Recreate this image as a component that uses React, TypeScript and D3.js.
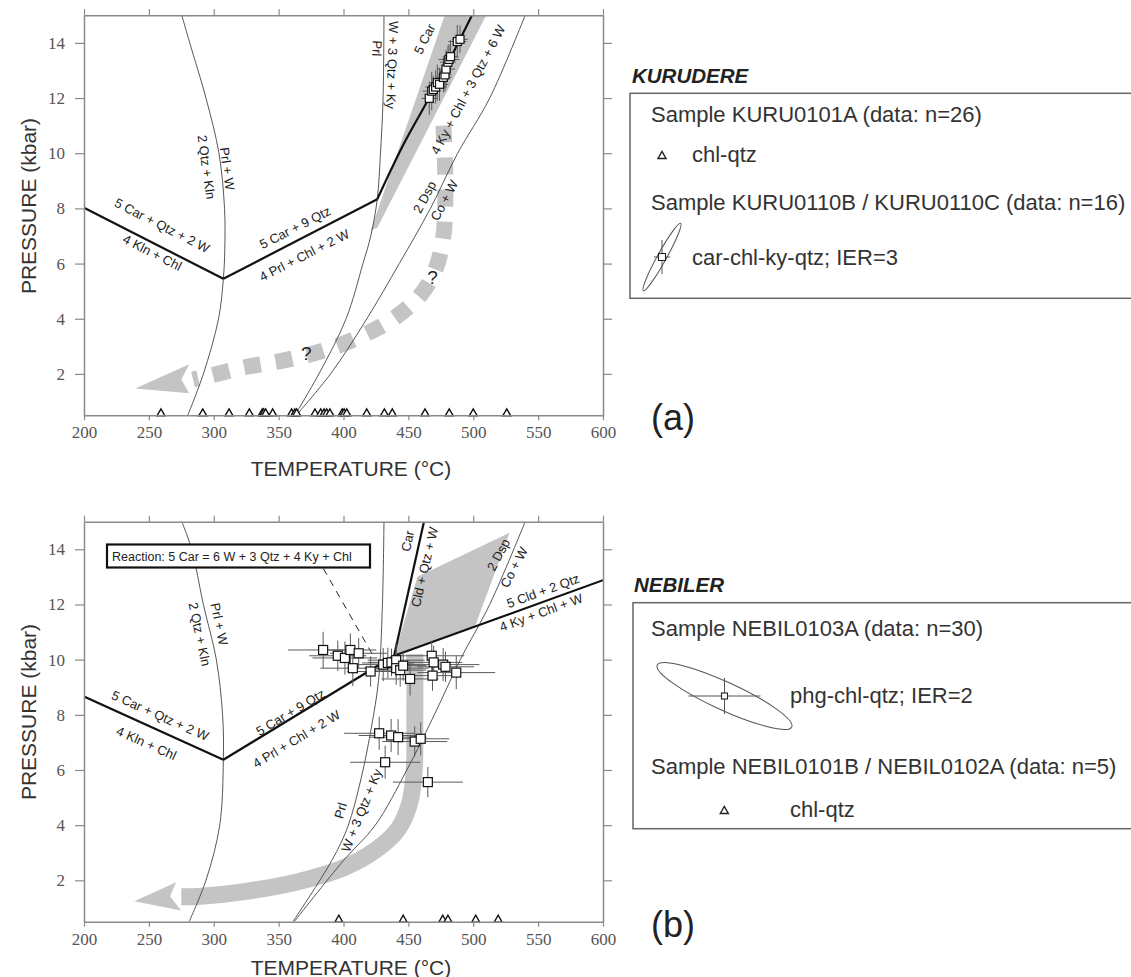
import React, { useRef, useEffect } from 'react';
import * as d3 from 'd3';

type Pt = [number, number];
type Label = [string, number, number, number];

// axes
const T_TICKS = [200, 250, 300, 350, 400, 450, 500, 550, 600];
const P_TICKS = [2, 4, 6, 8, 10, 12, 14];

// ---------- (a) KURUDERE : reactions in [T °C, P kbar] ----------
const A_KLN_CAR: Pt[] = [[200, 8.02], [307.4, 5.45]];
const A_PRL_CAR: Pt[] = [[307.4, 5.45], [426, 8.33]];
const A_CAR_KY: Pt[] = [[426, 8.33], [446, 10.3], [466, 12], [483, 13.5], [499, 15]];
const A_PRL_KLN: Pt[] = [[275.4, 15], [281.5, 14], [294, 12], [304, 10], [308.3, 8], [308.5, 6.5], [307.4, 5.45], [303.7, 4], [292, 2], [280, 0.5]];
const A_PRL_KY: Pt[] = [[431.2, 15], [430.5, 12], [428.5, 10], [426, 8.33], [421, 7], [415, 6], [402, 4], [381, 2], [362.5, 0.5]];
const A_DSP_CO: Pt[] = [[540, 15], [512.7, 12], [488, 10], [467, 8], [443, 6], [418, 4], [390, 2], [363.5, 0.5]];
const A_BAND: Pt[] = [[421, 7.2], [478, 15], [510, 15], [426, 7.3]];
const A_PATH: Pt[] = [[477, 11.0], [478.5, 9], [477, 7], [471, 5.8], [460, 4.9], [440, 4.05], [415, 3.4], [385, 2.85], [355, 2.5], [325, 2.25], [298, 1.95], [284, 1.8]];
const A_ARROW: Pt[] = [[239.5, 1.47], [281, 2.35], [275, 1.8], [281, 1.3]];
const A_QMARKS: Pt[] = [[468.6, 5.51], [371.3, 2.74]];

// chl-qtz temperatures (sample KURU0101A, n=26), plotted on the T axis
const A_CHLQTZ_T = [259.3, 291.5, 311.8, 327.4, 337.4, 338.5, 340, 345.4, 360, 362.5, 363.9, 378, 382.4, 385, 387, 389.5, 399, 400.5, 402.5, 417.9, 431.5, 437.6, 462.8, 481.5, 500, 525.8];
// car-chl-ky-qtz estimates (KURU0110B / KURU0110C)
const A_MULTI_T = [466.1, 468, 469.2, 471, 472.3, 474, 477, 478.2, 479, 480.5, 481.3, 482.5, 487.7, 489.8];
const A_MULTI_P = [11.99, 12.25, 12.31, 12.4, 12.56, 12.5, 12.75, 12.84, 13.05, 13.3, 13.4, 13.5, 14.05, 14.13];
const A_MULTI_ST = [6, 7, 5, 8, 6, 7, 6, 5, 7, 6, 8, 6, 7, 6];
const A_MULTI_SP = [0.6, 0.7, 0.5, 0.6, 0.65, 0.6, 0.55, 0.6, 0.7, 0.6, 0.55, 0.6, 0.6, 0.5];

const A_LABELS: Label[] = [
  ['5 Car + Qtz + 2 W', 260.2, 7.38, 27],
  ['4 Kln + Chl', 252.6, 6.4, 27],
  ['5 Car + 9 Qtz', 362.7, 7.3, -27],
  ['4 Prl + Chl + 2 W', 369.7, 6.3, -27],
  ['2 Qtz + Kln', 294.3, 9.5, 82],
  ['Prl + W', 310.4, 9.44, 82],
  ['Prl', 425.8, 13.8, 92],
  ['W + 3 Qtz + Ky', 437.5, 13.2, 92],
  ['5 Car', 462.5, 14.14, -63],
  ['4 Ky + Chl + 3 Qtz + 6 W', 496, 12.3, -62],
  ['2 Dsp', 462.5, 8.41, -62],
  ['Co + W', 477.7, 8.29, -62],
];

// ---------- (b) NEBILER ----------
const B_KLN_CAR: Pt[] = [[200, 8.66], [307.4, 6.37]];
const B_PRL_CAR: Pt[] = [[307.4, 6.37], [439, 10.14]];
const B_CAR_CLD: Pt[] = [[439, 10.14], [462, 15]];
const B_CLD_KY: Pt[] = [[439, 10.14], [600, 12.88]];
const B_CAR_KY_META: Pt[] = [[384.5, 13.3], [424, 10.05]];
const B_PRL_KLN: Pt[] = [[275.4, 15], [283, 14], [292, 12], [302, 10], [306.8, 8], [307.4, 6.37], [304.6, 4], [294, 2], [281, 0.5]];
const B_PRL_KY: Pt[] = [[431.2, 15], [430, 12], [427, 9.24], [421.5, 7.55], [413.8, 5.74], [403.2, 3.93], [391, 2.72], [361, 0.5]];
const B_DSP_CO: Pt[] = [[540, 15], [512.7, 12], [490, 10], [470, 8], [448.8, 6], [424.5, 4], [400, 2.72], [362, 0.5]];
const B_FIELD: Pt[] = [[439, 10.14], [457, 13.0], [528, 14.6], [501.3, 11.19]];
const B_PATH: Pt[] = [[455, 10.2], [455, 8], [454.5, 6], [451, 4.8], [442, 3.85], [425, 3.1], [400, 2.45], [365, 1.95], [325, 1.6], [290, 1.42], [275, 1.4]];
const B_ARROW: Pt[] = [[238.8, 1.24], [271, 1.93], [266.3, 1.42], [274.8, 0.91]];

// phg-chl-qtz estimates (NEBIL0103A)
const B_PHG_T = [384.3, 395.6, 401.1, 405.3, 411.7, 407.2, 420.9, 430.6, 434.2, 437, 440.6, 440.6, 443.7, 446, 451.3, 468, 469.5, 468.6, 476.8, 478.6, 486.9, 427.5, 436.7, 442.1, 454.9, 459.5, 432.1, 465];
const B_PHG_P = [10.35, 10.14, 10.06, 10.35, 10.23, 9.69, 9.57, 9.82, 9.88, 9.9, 9.98, 9.69, 9.62, 9.78, 9.3, 10.14, 9.9, 9.42, 9.82, 9.74, 9.53, 7.33, 7.25, 7.19, 7.03, 7.13, 6.28, 5.56];
const B_PHG_ST = [27, 22, 25, 20, 22, 25, 18, 22, 20, 18, 22, 25, 20, 18, 22, 25, 22, 20, 28, 22, 30, 27, 25, 22, 25, 22, 27, 27];
const B_PHG_SP = [0.66, 0.55, 0.6, 0.6, 0.55, 0.65, 0.55, 0.6, 0.55, 0.5, 0.6, 0.6, 0.6, 0.55, 0.6, 0.55, 0.6, 0.55, 0.6, 0.55, 0.6, 0.6, 0.6, 0.65, 0.55, 0.6, 0.6, 0.55];
// chl-qtz (NEBIL0101B / NEBIL0102A)
const B_CHLQTZ_T = [396.4, 446, 476.5, 480.5, 501.9, 519.2];

const B_LABELS: Label[] = [
  ['5 Car + Qtz + 2 W', 258.7, 7.97, 24],
  ['4 Kln + Chl', 248.1, 6.97, 24],
  ['5 Car + 9 Qtz', 359.1, 8.09, -31],
  ['4 Prl + Chl + 2 W', 363.7, 7.12, -31],
  ['2 Qtz + Kln', 289.1, 10.92, 78],
  ['Prl + W', 304.3, 11.29, 78],
  ['Prl', 397.7, 4.53, -74],
  ['W + 3 Qtz + Ky', 413.9, 4.53, -68],
  ['Car', 449.4, 14.3, -77],
  ['Cld + Qtz + W', 462.5, 13.36, -77],
  ['2 Dsp', 519.4, 13.8, -62],
  ['Co + W', 531.5, 13.35, -62],
  ['5 Cld + 2 Qtz', 553.8, 12.49, -20],
  ['4 Ky + Chl + W', 552.3, 11.71, -20],
];

const CHLQTZ_P = 0.5;

const SANS = '"Liberation Sans", Arial, Helvetica, sans-serif';
const SERIF = '"Liberation Serif", "Times New Roman", serif';
const GREY = '#c4c4c4';
const AXIS = '#8a8a8a';

const X0 = 84, X1 = 603;

const drawPanel = (svg: any, cfg: any) => {
  const x = d3.scaleLinear().domain([200, 600]).range([X0, X1]);
  const y = d3.scaleLinear().domain([0.5, 15]).range([cfg.bottom, cfg.top]);
  const line = d3.line<Pt>().x(d => x(d[0])).y(d => y(d[1]));
  const smooth = d3.line<Pt>().x(d => x(d[0])).y(d => y(d[1])).curve(d3.curveCatmullRom.alpha(0.5));

  svg.append('clipPath').attr('id', cfg.id).append('rect')
    .attr('x', X0).attr('y', cfg.top).attr('width', X1 - X0).attr('height', cfg.bottom - cfg.top);
  const g = svg.append('g').attr('clip-path', `url(#${cfg.id})`);

  // grey fields and P-T path
  cfg.fills.forEach((poly: Pt[]) => g.append('path').attr('d', line(poly) + 'Z').attr('fill', GREY));
  g.append('path').attr('d', smooth(cfg.path))
    .attr('fill', 'none').attr('stroke', GREY)
    .attr('stroke-width', cfg.pathWidth)
    .attr('stroke-dasharray', cfg.pathDash || null);
  g.append('path').attr('d', line(cfg.arrow) + 'Z').attr('fill', GREY);

  // reaction curves
  cfg.thin.forEach((c: Pt[]) => g.append('path').attr('d', smooth(c))
    .attr('fill', 'none').attr('stroke', '#444').attr('stroke-width', 0.9));
  cfg.thick.forEach((c: Pt[]) => g.append('path').attr('d', smooth(c))
    .attr('fill', 'none').attr('stroke', '#111').attr('stroke-width', 2.2));
  (cfg.dashed || []).forEach((c: Pt[]) => g.append('path').attr('d', line(c))
    .attr('fill', 'none').attr('stroke', '#222').attr('stroke-width', 1).attr('stroke-dasharray', '7 6'));

  // reaction labels
  g.selectAll('text.lbl').data(cfg.labels).join('text')
    .attr('class', 'lbl')
    .attr('transform', (d: Label) => `translate(${x(d[1])},${y(d[2])}) rotate(${d[3]})`)
    .attr('text-anchor', 'middle').attr('dominant-baseline', 'central')
    .style('font-family', SANS).style('font-size', '13px').attr('fill', '#222')
    .text((d: Label) => d[0]);

  (cfg.qmarks || []).forEach((q: Pt) => g.append('text')
    .attr('x', x(q[0])).attr('y', y(q[1])).attr('text-anchor', 'middle').attr('dominant-baseline', 'central')
    .style('font-family', SANS).style('font-size', '19px').attr('fill', '#222').text('?'));

  // error bars + squares
  const pts = cfg.sqT.map((t: number, i: number) => ({ t, p: cfg.sqP[i], st: cfg.sqST[i], sp: cfg.sqSP[i] }));
  const eb = g.append('g').attr('stroke', '#5a5a5a').attr('stroke-width', 1);
  pts.forEach((d: any) => {
    eb.append('line').attr('x1', x(d.t - d.st)).attr('x2', x(d.t + d.st)).attr('y1', y(d.p)).attr('y2', y(d.p));
    eb.append('line').attr('x1', x(d.t)).attr('x2', x(d.t)).attr('y1', y(d.p - d.sp)).attr('y2', y(d.p + d.sp));
  });
  const s = cfg.sqSize;
  g.append('g').selectAll('rect').data(pts).join('rect')
    .attr('x', (d: any) => x(d.t) - s / 2).attr('y', (d: any) => y(d.p) - s / 2)
    .attr('width', s).attr('height', s)
    .attr('fill', '#fff').attr('stroke', '#111').attr('stroke-width', 1.2);

  // chl-qtz triangles on the T axis
  svg.append('g').selectAll('path').data(cfg.tri).join('path')
    .attr('d', (t: number) => {
      const cx = x(t), cy = y(CHLQTZ_P);
      return `M${cx - 4},${cy + 0.5}L${cx + 4},${cy + 0.5}L${cx},${cy - 6.5}Z`;
    })
    .attr('fill', '#fff').attr('stroke', '#111').attr('stroke-width', 1.4);

  // axes
  const style = (a: any) => {
    a.select('.domain').attr('stroke', AXIS).attr('stroke-width', 1.5);
    a.selectAll('.tick line').attr('stroke', AXIS).attr('stroke-width', 1.2);
    a.selectAll('text').attr('fill', '#555').style('font-family', SERIF).style('font-size', '17px');
  };
  svg.append('g').attr('transform', `translate(0,${cfg.bottom})`)
    .call(d3.axisBottom(x).tickValues(T_TICKS).tickSize(5).tickPadding(6).tickSizeOuter(0)).call(style);
  svg.append('g').attr('transform', `translate(0,${cfg.top})`)
    .call(d3.axisTop(x).tickValues(T_TICKS).tickSize(6).tickFormat(() => '').tickSizeOuter(0)).call(style);
  svg.append('g').attr('transform', `translate(${X0},0)`)
    .call(d3.axisLeft(y).tickValues(P_TICKS).tickSize(9).tickPadding(10).tickSizeOuter(0)).call(style);
  svg.append('g').attr('transform', `translate(${X1},0)`)
    .call(d3.axisRight(y).tickValues(P_TICKS).tickSize(9).tickFormat(() => '').tickSizeOuter(0)).call(style);

  // axis titles
  svg.append('text').attr('x', 351).attr('y', cfg.xTitleY)
    .attr('text-anchor', 'middle').attr('dominant-baseline', 'central')
    .style('font-family', SANS).style('font-size', '21px').attr('fill', '#333')
    .text('TEMPERATURE (°C)');
  svg.append('text').attr('transform', `translate(28,${cfg.yTitleY}) rotate(-90)`)
    .attr('text-anchor', 'middle').attr('dominant-baseline', 'central')
    .style('font-family', SANS).style('font-size', '21px').attr('fill', '#333')
    .text('PRESSURE (kbar)');
  svg.append('text').attr('x', 651).attr('y', cfg.tagY)
    .style('font-family', SANS).style('font-size', '36px').attr('fill', '#222')
    .text(cfg.tag);
};

const legendText = (svg: any, x: number, y: number, txt: string) =>
  svg.append('text').attr('x', x).attr('y', y).attr('dominant-baseline', 'central')
    .style('font-family', SANS).style('font-size', '22px').attr('fill', '#333').text(txt);

const legendTitle = (svg: any, x: number, y: number, txt: string) =>
  svg.append('text').attr('x', x).attr('y', y).attr('dominant-baseline', 'central')
    .style('font-family', SANS).style('font-size', '20.5px').style('font-weight', 'bold').style('font-style', 'italic')
    .attr('fill', '#222').text(txt);

const legendTriangle = (svg: any, cx: number, cy: number) =>
  svg.append('path').attr('d', `M${cx - 4},${cy + 3.5}L${cx + 4},${cy + 3.5}L${cx},${cy - 3.5}Z`)
    .attr('fill', '#fff').attr('stroke', '#222').attr('stroke-width', 1.4);

const legendEllipse = (svg: any, cx: number, cy: number, rx: number, ry: number, ang: number, ex: number, ey: number, sq: number) => {
  const g = svg.append('g').attr('transform', `translate(${cx},${cy})`);
  g.append('ellipse').attr('rx', rx).attr('ry', ry).attr('transform', `rotate(${ang})`)
    .attr('fill', 'none').attr('stroke', '#555').attr('stroke-width', 1);
  g.append('line').attr('x1', -ex).attr('x2', ex).attr('stroke', '#555');
  g.append('line').attr('y1', -ey).attr('y2', ey).attr('stroke', '#555');
  g.append('rect').attr('x', -sq / 2).attr('y', -sq / 2).attr('width', sq).attr('height', sq)
    .attr('fill', '#fff').attr('stroke', '#222').attr('stroke-width', 1.1);
};

const App = () => {
  const svgRef = useRef<SVGSVGElement>(null);

  useEffect(() => {
    const svg = d3.select(svgRef.current);
    svg.selectAll('*').remove();

    drawPanel(svg, {
      id: 'clipA', top: 15.3, bottom: 415.3, xTitleY: 468, yTitleY: 206, tag: '(a)', tagY: 430,
      fills: [A_BAND], path: A_PATH, pathWidth: 16, pathDash: '17 15', arrow: A_ARROW,
      thin: [A_PRL_KLN, A_PRL_KY, A_DSP_CO], thick: [A_KLN_CAR, A_PRL_CAR, A_CAR_KY],
      labels: A_LABELS, qmarks: A_QMARKS,
      sqT: A_MULTI_T, sqP: A_MULTI_P, sqST: A_MULTI_ST, sqSP: A_MULTI_SP, sqSize: 8,
      tri: A_CHLQTZ_T,
    });

    drawPanel(svg, {
      id: 'clipB', top: 521.7, bottom: 921.7, xTitleY: 967, yTitleY: 712, tag: '(b)', tagY: 937,
      fills: [B_FIELD], path: B_PATH, pathWidth: 17, arrow: B_ARROW,
      thin: [B_PRL_KLN, B_PRL_KY, B_DSP_CO], thick: [B_KLN_CAR, B_PRL_CAR, B_CAR_CLD, B_CLD_KY],
      dashed: [B_CAR_KY_META], labels: B_LABELS,
      sqT: B_PHG_T, sqP: B_PHG_P, sqST: B_PHG_ST, sqSP: B_PHG_SP, sqSize: 9,
      tri: B_CHLQTZ_T,
    });

    // reaction box in (b)
    svg.append('rect').attr('x', 107).attr('y', 544.5).attr('width', 263).attr('height', 23)
      .attr('fill', '#fff').attr('stroke', '#111').attr('stroke-width', 2.2);
    svg.append('text').attr('x', 112).attr('y', 556.5).attr('dominant-baseline', 'central')
      .style('font-family', SANS).style('font-size', '12.5px').attr('fill', '#222')
      .text('Reaction: 5 Car = 6 W + 3 Qtz + 4 Ky + Chl');

    // legend (a)
    legendTitle(svg, 632, 75, 'KURUDERE');
    svg.append('rect').attr('x', 630).attr('y', 93.3).attr('width', 520).attr('height', 205)
      .attr('fill', 'none').attr('stroke', '#666').attr('stroke-width', 1.5);
    legendText(svg, 651, 114.5, 'Sample KURU0101A (data: n=26)');
    legendTriangle(svg, 662, 155);
    legendText(svg, 692, 154.5, 'chl-qtz');
    legendText(svg, 651, 202, 'Sample KURU0110B / KURU0110C (data: n=16)');
    legendEllipse(svg, 662, 257, 38.5, 4.5, -61, 8, 17, 7);
    legendText(svg, 692, 257.5, 'car-chl-ky-qtz; IER=3');

    // legend (b)
    legendTitle(svg, 634, 584, 'NEBILER');
    svg.append('rect').attr('x', 633).attr('y', 602.7).attr('width', 520).attr('height', 226)
      .attr('fill', 'none').attr('stroke', '#666').attr('stroke-width', 1.5);
    legendText(svg, 651, 628.5, 'Sample NEBIL0103A (data: n=30)');
    legendEllipse(svg, 724.5, 696, 74, 14, 24.7, 36, 18, 6);
    legendText(svg, 790, 695, 'phg-chl-qtz; IER=2');
    legendText(svg, 651, 766, 'Sample NEBIL0101B / NEBIL0102A (data: n=5)');
    legendTriangle(svg, 724.3, 810);
    legendText(svg, 790, 809, 'chl-qtz');
  }, []);

  return (
    <div style={{ position: 'absolute', left: 0, top: 0 }}>
      <svg ref={svgRef} width={1131} height={977} style={{ display: 'block', background: '#fff' }} />
    </div>
  );
};

export default App;
